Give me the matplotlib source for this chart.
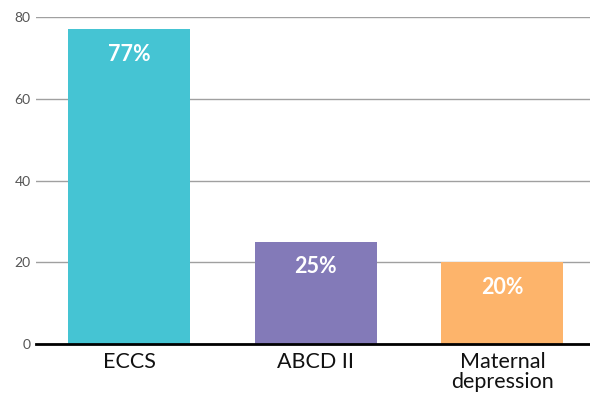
import matplotlib
matplotlib.use("Agg")
import matplotlib.pyplot as plt

categories = ["ECCS", "ABCD II", "Maternal\ndepression"]
values = [77, 25, 20]
labels = ["77%", "25%", "20%"]
colors = ["#45C4D3", "#837AB8", "#FDB46B"]

plt.rcParams['font.family'] = ['Lato', 'DejaVu Sans']

fig = plt.figure(figsize=(5.9, 4), dpi=100)
ax = fig.add_axes([0.061, 0.14, 0.939, 0.8175])

x = range(len(categories))
ax.bar(x, values, width=0.655, color=colors, zorder=3)

for i, v in enumerate(values):
    ax.annotate(labels[i], (i, v), xytext=(0, -18), textcoords="offset points",
                ha="center", va="center", color="white", fontsize=15.5, fontweight="bold", zorder=4)

ax.set_xlim(-0.5, 2.47)
ax.set_ylim(0, 80)
ax.set_yticks([0, 20, 40, 60, 80])
ax.yaxis.grid(True, color="#a0a0a0", linewidth=1, zorder=0)
ax.set_xticks(list(x))
ax.set_xticklabels(categories, fontsize=15.5, color="#111111", linespacing=1.0)
ax.tick_params(axis="y", length=0, labelsize=10, labelcolor="#555555", pad=4)
ax.tick_params(axis="x", length=0, pad=6)

for s in ["top", "right", "left"]:
    ax.spines[s].set_visible(False)
ax.spines["bottom"].set_linewidth(2)
ax.spines["bottom"].set_color("black")
ax.spines["bottom"].set_zorder(5)

fig.savefig("out.png", dpi=100)
